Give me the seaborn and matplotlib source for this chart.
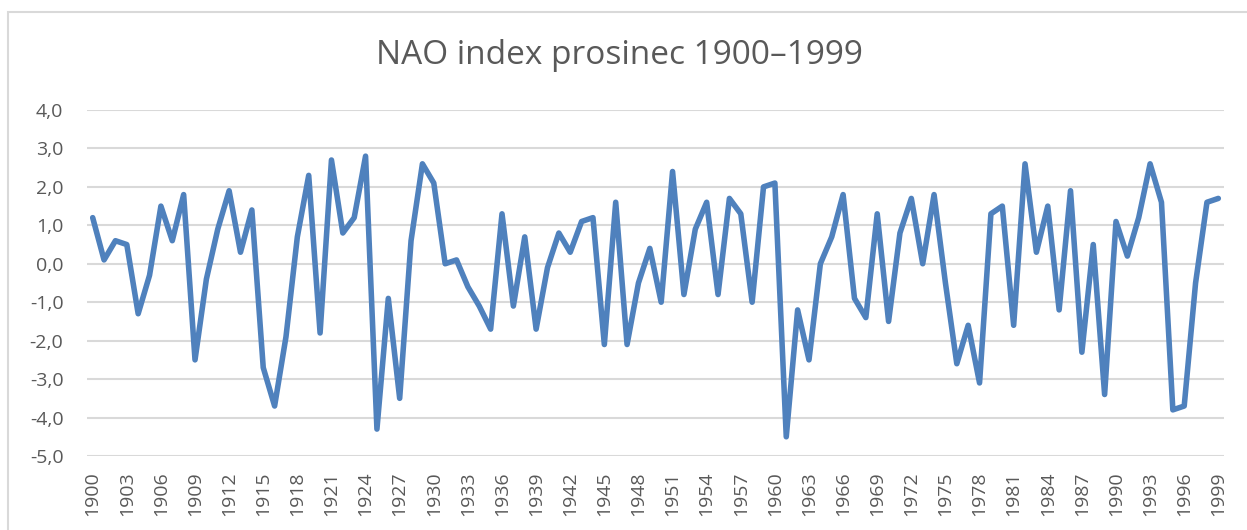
import matplotlib
matplotlib.use("Agg")
import matplotlib.pyplot as plt
import seaborn as sns
import pandas as pd
from matplotlib.patches import Rectangle
from matplotlib.ticker import FuncFormatter

years = list(range(1900, 2000))
nao = [
    1.2, 0.1, 0.6, 0.5, -1.3, -0.3, 1.5, 0.6, 1.8, -2.5,
    -0.4, 0.9, 1.9, 0.3, 1.4, -2.7, -3.7, -1.9, 0.7, 2.3,
    -1.8, 2.7, 0.8, 1.2, 2.8, -4.3, -0.9, -3.5, 0.6, 2.6,
    2.1, 0.0, 0.1, -0.6, -1.1, -1.7, 1.3, -1.1, 0.7, -1.7,
    -0.1, 0.8, 0.3, 1.1, 1.2, -2.1, 1.6, -2.1, -0.5, 0.4,
    -1.0, 2.4, -0.8, 0.9, 1.6, -0.8, 1.7, 1.3, -1.0, 2.0,
    2.1, -4.5, -1.2, -2.5, 0.0, 0.7, 1.8, -0.9, -1.4, 1.3,
    -1.5, 0.8, 1.7, 0.0, 1.8, -0.5, -2.6, -1.6, -3.1, 1.3,
    1.5, -1.6, 2.6, 0.3, 1.5, -1.2, 1.9, -2.3, 0.5, -3.4,
    1.1, 0.2, 1.2, 2.6, 1.6, -3.8, -3.7, -0.5, 1.6, 1.7,
]
df = pd.DataFrame({"rok": years, "NAO": nao})

sns.set_style("white")
plt.rcParams["font.family"] = ["Open Sans", "DejaVu Sans"]
txt = "#595959"

fig = plt.figure(figsize=(12.47, 5.30), dpi=100)
ax = fig.add_axes([87 / 1247, 74 / 530, (1224 - 87) / 1247, 346 / 530])

# chart area border (Excel style)
fig.patches.append(Rectangle((8 / 1247, -0.1), 1.2, (530 - 12) / 530 + 0.1,
                             transform=fig.transFigure, fill=False,
                             edgecolor="#D9D9D9", linewidth=1.5))

sns.lineplot(data=df, x="rok", y="NAO", ax=ax, color="#4F81BD", linewidth=4)

ax.set_xlim(1899.5, 1999.5)
ax.set_ylim(-5, 4)
ax.set_yticks(range(-5, 5))
ax.yaxis.set_major_formatter(FuncFormatter(lambda v, p: f"{v:.1f}".replace(".", ",")))
ax.set_xticks(years[::3])
ax.set_xticklabels([str(y) for y in years[::3]], rotation=90)
ax.grid(axis="y", color="#D9D9D9", linewidth=1.5)
ax.set_axisbelow(True)
for s in ax.spines.values():
    s.set_visible(False)
ax.tick_params(axis="y", length=0, pad=17, labelsize=14, labelcolor=txt)
ax.tick_params(axis="x", length=0, pad=11, labelsize=14, labelcolor=txt)
ax.set_xlabel("")
ax.set_ylabel("")

fig.text(619 / 1247, 1 - 56 / 530, "NAO index prosinec 1900\u20131999",
         ha="center", va="center", fontsize=24, color=txt)

fig.savefig("out.png", dpi=100)
